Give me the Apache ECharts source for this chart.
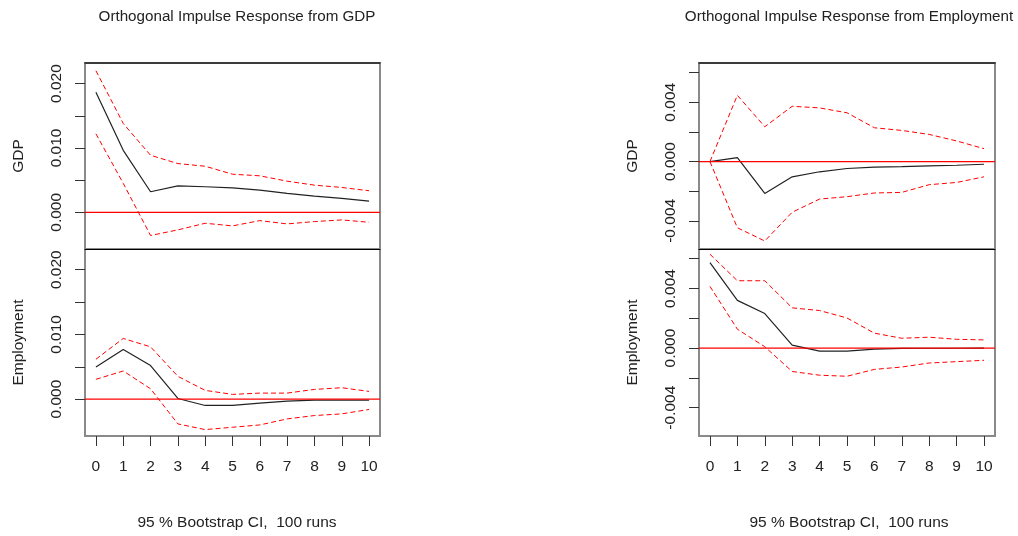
<!DOCTYPE html>
<html>
<head>
<meta charset="utf-8">
<script src="https://cdn.jsdelivr.net/npm/echarts@6/dist/echarts.min.js"></script>
<style>
html,body{margin:0;padding:0;background:#fff;}
#chart{width:1018px;height:536px;}
</style>
</head>
<body>
<div id="chart"></div>
<script>
// ---- data ----
const horizon = [0, 1, 2, 3, 4, 5, 6, 7, 8, 9, 10];

// Impulse: GDP -> GDP
const gdpFromGdp      = [0.01865, 0.00963, 0.00319, 0.00412, 0.00397, 0.00381, 0.00345, 0.00294, 0.00252, 0.00216, 0.00175];
const gdpFromGdpLower = [0.0122, 0.0045, -0.0036, -0.00273, -0.0017, -0.00211, -0.00129, -0.0018, -0.00144, -0.00118, -0.00155];
const gdpFromGdpUpper = [0.0220, 0.0138, 0.00886, 0.00757, 0.00716, 0.00592, 0.00567, 0.00484, 0.00422, 0.00386, 0.00335];

// Impulse: GDP -> Employment
const empFromGdp      = [0.00497, 0.00767, 0.00518, 0.0001, -0.00098, -0.00098, -0.00062, -0.00031, -0.00016, -0.00016, -0.00016];
const empFromGdpLower = [0.00306, 0.00435, 0.0016, -0.00383, -0.00471, -0.00435, -0.00399, -0.00306, -0.00254, -0.00228, -0.0016];
const empFromGdpUpper = [0.00616, 0.00938, 0.00808, 0.00352, 0.00135, 0.00073, 0.00093, 0.00093, 0.0015, 0.00176, 0.00119];

// Impulse: Employment -> GDP
const gdpFromEmp      = [0, 0.00027, -0.00215, -0.00103, -0.00069, -0.00047, -0.00038, -0.00034, -0.00029, -0.00025, -0.00018];
const gdpFromEmpLower = [0, -0.00447, -0.00536, -0.00342, -0.00253, -0.00237, -0.00212, -0.00208, -0.00156, -0.00141, -0.00103];
const gdpFromEmpUpper = [0, 0.00447, 0.00235, 0.00373, 0.00362, 0.00329, 0.00228, 0.0021, 0.00183, 0.00139, 0.00087];

// Impulse: Employment -> Employment
const empFromEmp      = [0.00573, 0.0032, 0.00232, 0.0002, -0.0002, -0.0002, -0.00007, -0.00002, -0.00001, -0.00001, 0];
const empFromEmpLower = [0.00414, 0.00127, 0.00009, -0.00157, -0.00182, -0.00189, -0.00143, -0.00127, -0.001, -0.00091, -0.00082];
const empFromEmpUpper = [0.0063, 0.00452, 0.00452, 0.0027, 0.00252, 0.00202, 0.001, 0.00066, 0.00073, 0.00059, 0.00055];

// axis ticks / labels
const xTicks = horizon;
const xRange = [-0.4, 10.4];
const leftYTicks  = [0, 0.005, 0.01, 0.015, 0.02];
const leftYLabels = [0, 0.01, 0.02];
const rightYTicks  = [-0.004, -0.002, 0, 0.002, 0.004, 0.006];
const rightYLabels = [-0.004, 0, 0.004];
const leftRange  = [-0.0057, 0.0232];
const rightRange = [-0.0059, 0.00665];
const zeroLevel = 0;

const titles = ['Orthogonal Impulse Response from GDP', 'Orthogonal Impulse Response from Employment'];
const footer = '95 % Bootstrap CI,  100 runs';
const varNames = ['GDP', 'Employment'];

// ---- layout ----
const FONT = '"Liberation Sans", Arial, sans-serif';
const FS = 15.5;
const TXT = '#222';
const panels = [
  { left: 85, width: 295, titleX: 232, range: leftRange, ticks: leftYTicks, labels: leftYLabels,
    series: [[gdpFromGdp, gdpFromGdpLower, gdpFromGdpUpper], [empFromGdp, empFromGdpLower, empFromGdpUpper]] },
  { left: 699, width: 296, titleX: 844, range: rightRange, ticks: rightYTicks, labels: rightYLabels,
    series: [[gdpFromEmp, gdpFromEmpLower, gdpFromEmpUpper], [empFromEmp, empFromEmpLower, empFromEmpUpper]] }
];
const rows = [{ top: 63, height: 186 }, { top: 249, height: 187 }];

const grid = [], xAxis = [], yAxis = [], series = [], title = [];
const toPairs = arr => horizon.map((h, i) => [h, arr[i]]);

panels.forEach((p, pi) => {
  title.push({ text: titles[pi], left: p.titleX, top: 4, textAlign: 'center',
    textStyle: { fontFamily: FONT, fontSize: 15.2, fontWeight: 'normal', color: TXT } });
  title.push({ text: footer, left: p.titleX, top: 510, textAlign: 'center',
    textStyle: { fontFamily: FONT, fontSize: FS, fontWeight: 'normal', color: TXT } });
  rows.forEach((r, ri) => {
    const gi = grid.length;
    grid.push({ left: p.left, width: p.width, top: r.top, height: r.height, show: true,
      borderColor: '#8a8a8a', borderWidth: 2, backgroundColor: 'transparent', containLabel: false });
    const isBottom = ri === 1;
    const xi = xAxis.length;
    xAxis.push({
      type: 'value', gridIndex: gi, min: xRange[0], max: xRange[1], position: 'bottom', z: 10,
      splitLine: { show: false },
      axisLine: { show: true, onZero: false, lineStyle: { color: isBottom ? '#8a8a8a' : '#000', width: isBottom ? 2 : 1 } },
      axisTick: { show: isBottom, length: 10, customValues: xTicks, lineStyle: { color: '#333', width: 1 } },
      axisLabel: { show: isBottom, customValues: xTicks, margin: 23, fontFamily: FONT, fontSize: FS, color: TXT,
        formatter: v => String(v) }
    });
    if (!isBottom) {
      xAxis.push({
        type: 'value', gridIndex: gi, min: xRange[0], max: xRange[1], position: 'top', z: 10,
        splitLine: { show: false },
        axisLine: { show: true, onZero: false, lineStyle: { color: '#222', width: 1.5 } },
        axisTick: { show: false }, axisLabel: { show: false }
      });
    }
    const yi = yAxis.length;
    yAxis.push({
      type: 'value', gridIndex: gi, min: p.range[0], max: p.range[1], position: 'left',
      name: varNames[ri], nameLocation: 'middle', nameRotate: 90, nameGap: 58,
      nameTextStyle: { fontFamily: FONT, fontSize: FS, color: TXT },
      splitLine: { show: false },
      axisLine: { show: false, onZero: false },
      axisTick: { show: true, length: 10, customValues: p.ticks, lineStyle: { color: '#333', width: 1 } },
      axisLabel: { show: true, rotate: 90, margin: 20, customValues: p.labels, fontFamily: FONT, fontSize: FS, color: TXT,
        formatter: v => v.toFixed(3) }
    });
    const [imp, lo, up] = p.series[ri];
    series.push({
      type: 'line', xAxisIndex: xi, yAxisIndex: yi, data: toPairs(imp), symbol: 'none', animation: false,
      lineStyle: { color: '#222', width: 1.2 }, z: 3
    });
    [lo, up].forEach(arr => series.push({
      type: 'line', xAxisIndex: xi, yAxisIndex: yi, data: toPairs(arr), symbol: 'none', animation: false,
      lineStyle: { color: '#ff0000', width: 1, type: [5, 3] }, z: 2
    }));
    // zero reference line across the full axis extent
    series.push({
      type: 'line', xAxisIndex: xi, yAxisIndex: yi, data: xRange.map(x => [x, zeroLevel]), symbol: 'none',
      animation: false, silent: true, lineStyle: { color: '#ff0000', width: 1.2 }, z: 4
    });
  });
});

const chart = echarts.init(document.getElementById('chart'), null, { renderer: 'canvas' });
chart.setOption({ animation: false, backgroundColor: '#fff', title, grid, xAxis, yAxis, series });
</script>
</body>
</html>
